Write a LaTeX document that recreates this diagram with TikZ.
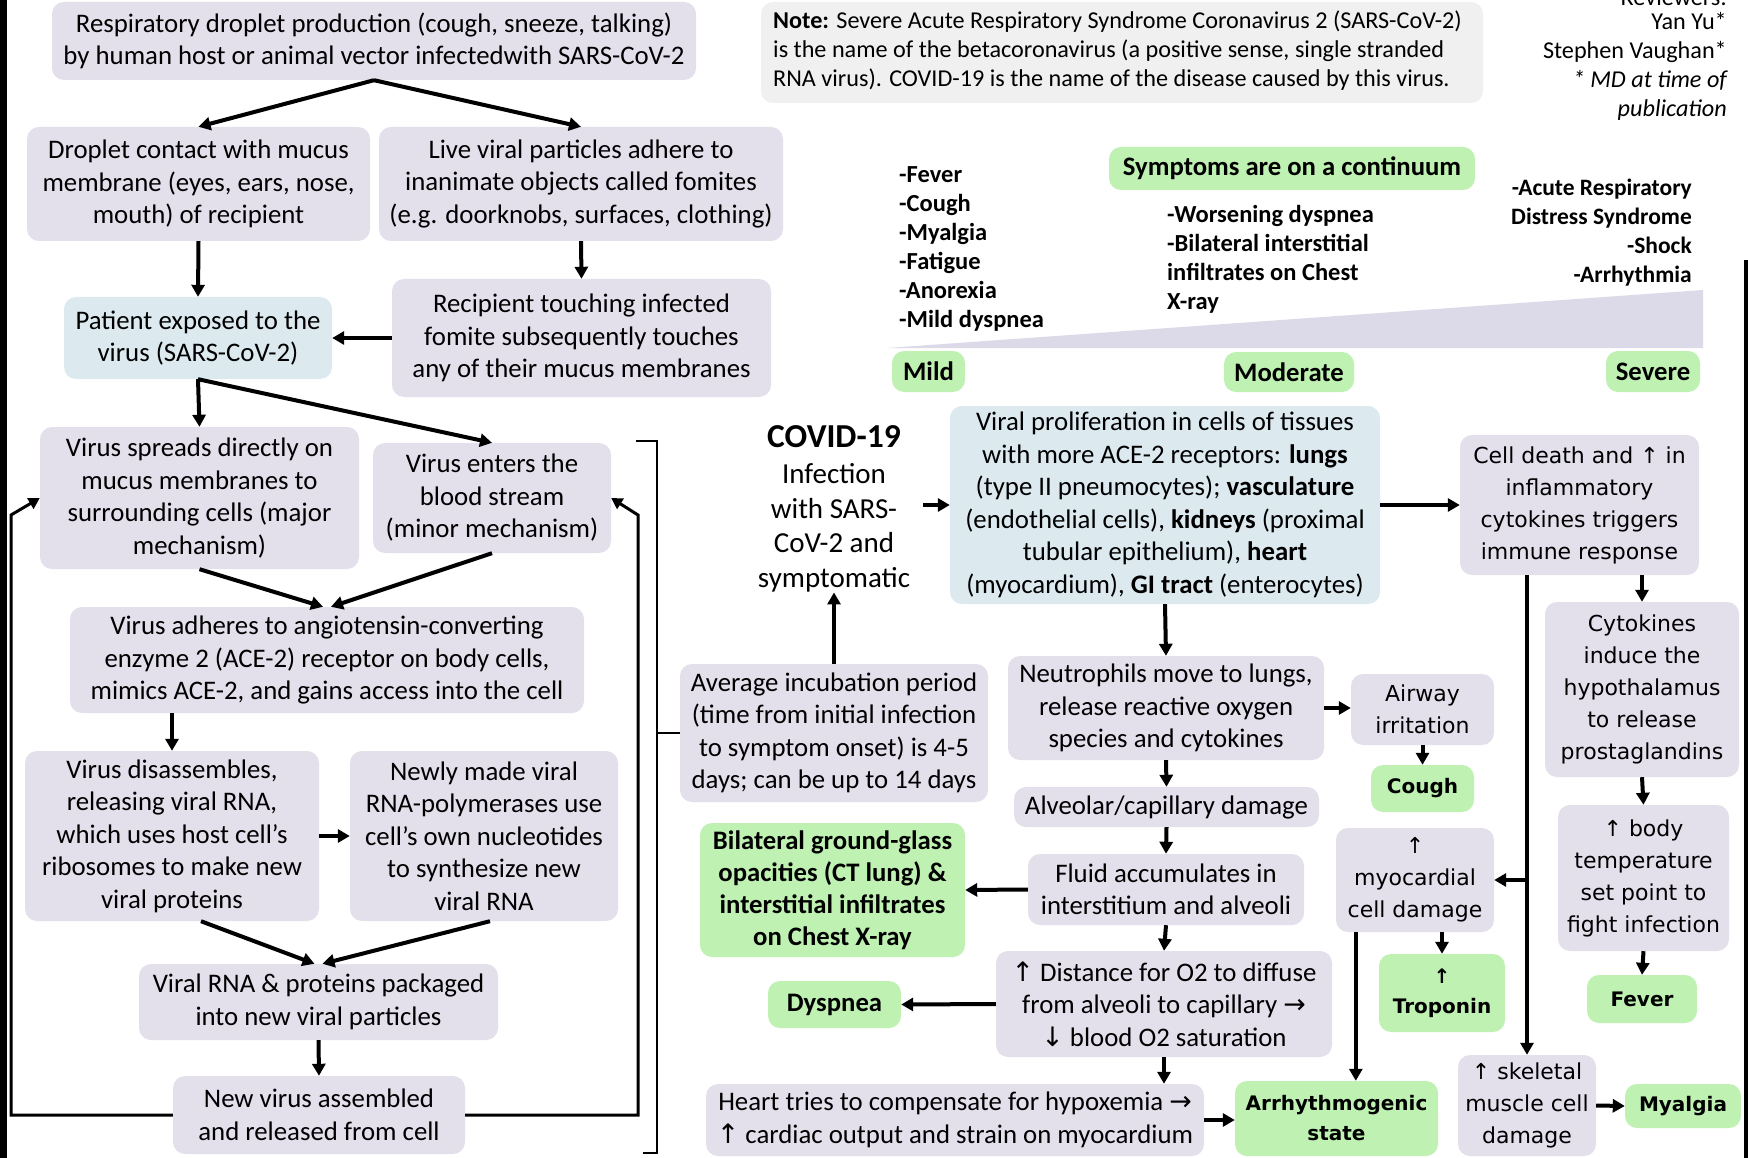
\documentclass[tikz,border=0pt]{standalone}
\usepackage{fontspec}
\setmainfont{Carlito}
\newfontfamily\dejavu{DejaVu Sans}
\usetikzlibrary{arrows.meta,calc}
\definecolor{lav}{HTML}{E3E0EC}
\definecolor{bluebox}{HTML}{DCEAF0}
\definecolor{grn}{HTML}{BFF2B2}
\definecolor{notebg}{HTML}{F0F0F0}
\definecolor{wedgec}{HTML}{DCDAE8}
\newcommand{\myup}{{\dejavu ↑}}
\newcommand{\myrt}{{\dejavu →}}
\newcommand{\mydn}{{\dejavu ↓}}
\tikzset{
  sz/.style 2 args={minimum width=#1, minimum height=#2},
  box/.style={rounded corners=12pt, fill=lav, align=center, inner sep=2pt, font=\fontsize{26.8}{32.5}\selectfont},
  bbox/.style={box, fill=bluebox},
  gbox/.style={box, fill=grn, font=\fontsize{26.7}{32}\selectfont\bfseries},
  rbox/.style={box, font=\dejavu\fontsize{22}{32}\selectfont},
  rgbox/.style={box, fill=grn, font=\dejavu\bfseries\fontsize{20}{30}\selectfont},
  arr/.style={-{Triangle[length=12pt,width=13pt]}, line width=4pt},
  larr/.style={-{Triangle[length=11pt,width=12pt]}, line width=3pt},
  plain/.style={inner sep=0pt, align=left},
  sev/.style={box, fill=grn, font=\fontsize{26.7}{30}\selectfont\bfseries},
}
\begin{document}
\begin{tikzpicture}[x=1pt,y=-1pt]
\useasboundingbox (0,0) rectangle (1748,1158);
\fill[white] (0,0) rectangle (1748,1158);
\fill[black] (0,0) rectangle (7,1158);
\fill[black] (1744,260) rectangle (1748,1158);

% ---------- left column ----------
\node[box, sz={644}{78}] (n1) at (374,41) {Respiratory droplet production (cough, sneeze, talking)\\by human host or animal vector infectedwith SARS-CoV-2};
\node[box, sz={343}{114}] (n2) at (198.5,184) {Droplet contact with mucus\\membrane (eyes, ears, nose,\\mouth) of recipient};
\node[box, sz={404}{114}] (n3) at (581,184) {Live viral particles adhere to\\inanimate objects called fomites\\(e.g. doorknobs, surfaces, clothing)};
\node[bbox, sz={268}{82}] (n4) at (198,338) {Patient exposed to the\\virus (SARS-CoV-2)};
\node[box, sz={379}{118}] (n5) at (581.5,338) {Recipient touching infected\\fomite subsequently touches\\any of their mucus membranes};
\node[box, sz={319}{142}] (n6) at (199.5,498) {Virus spreads directly on\\mucus membranes to\\surrounding cells (major\\mechanism)};
\node[box, sz={238}{110}] (n7) at (492,498) {Virus enters the\\blood stream\\(minor mechanism)};
\node[box, sz={514}{106}] (n8) at (327,660) {Virus adheres to angiotensin-converting\\enzyme 2 (ACE-2) receptor on body cells,\\mimics ACE-2, and gains access into the cell};
\node[box, sz={294}{170}] (n9) at (172,836) {Virus disassembles,\\releasing viral RNA,\\which uses host cell’s\\ribosomes to make new\\viral proteins};
\node[box, sz={268}{170}] (n10) at (484,836) {Newly made viral\\RNA-polymerases use\\cell’s own nucleotides\\to synthesize new\\viral RNA};
\node[box, sz={359}{76}] (n11) at (318.5,1002) {Viral RNA \& proteins packaged\\into new viral particles};
\node[box, sz={292}{78}] (n12) at (319,1115) {New virus assembled\\and released from cell};

\coordinate (lb) at (11,515);
\coordinate (rb) at (638,515);

\draw[arr] (n1.south) -- (n2.north);
\draw[arr] (n1.south) -- (n3.north);
\draw[arr] (n2.south) -- (n4.north);
\draw[arr] (n3.south) -- (n5.north);
\draw[arr] (n5.west) -- (n4.east);
\draw[arr] (n4.south) -- (n6.north);
\draw[arr] (n4.south) -- (n7.north);
\draw[arr] (n6.south) -- ($(n8.north)+(-4,0)$);
\draw[arr] (n7.south) -- ($(n8.north)+(4,0)$);
\draw[arr] (n8.south -| n9.north) -- (n9.north);
\draw[arr] (n9.east) -- (n10.west);
\draw[arr] ($(n9.south)+(29,0)$) -- ($(n11.north)+(-4,0)$);
\draw[arr] ($(n10.south)+(6,0)$) -- ($(n11.north)+(4,0)$);
\draw[arr] (n11.south) -- (n12.north);
\draw[larr] (n12.west) -| (lb) -- (n6.west);
\draw[larr] (n12.east) -| (rb) -- (n7.east);

% bracket
\draw[line width=2.5pt] (636,441) -- (657,441) -- (657,1153) -- (643,1153);

% ---------- note and reviewers ----------
\node[rounded corners=12pt, fill=notebg, sz={722}{101}] (note) at (1122,52.5) {};
\node[plain, anchor=west, font=\fontsize{24.2}{29}\selectfont] (notet) at (773,51) {\textbf{Note:} Severe Acute Respiratory Syndrome Coronavirus 2 (SARS-CoV-2)\\is the name of the betacoronavirus (a positive sense, single stranded\\RNA virus). COVID-19 is the name of the disease caused by this virus.};
\node[plain, anchor=base east, font=\fontsize{24.2}{29}\selectfont] (rv0) at (1727,6) {Reviewers:};
\node[plain, anchor=base east, font=\fontsize{24.2}{29}\selectfont] (rv1) at (1727,30) {Yan Yu*};
\node[plain, anchor=base east, font=\fontsize{24.2}{29}\selectfont] (rv2) at (1727,59) {Stephen Vaughan*};
\node[plain, anchor=base east, font=\fontsize{24.2}{29}\selectfont\itshape] (rv3) at (1727,88) {* MD at time of};
\node[plain, anchor=base east, font=\fontsize{24.2}{29}\selectfont\itshape] (rv4) at (1727,117) {publication};

% ---------- symptoms continuum ----------
\fill[wedgec] (887,348) -- (1703,290) -- (1703,348) -- cycle;
\node[box, fill=grn, sz={366}{43}, font=\fontsize{26.7}{30}\selectfont\bfseries] (symt) at (1292,168.5) {Symptoms are on a continuum};
\node[plain, anchor=west, font=\fontsize{24.5}{29}\selectfont\bfseries] (mildl) at (899,248.5) {-Fever\\-Cough\\-Myalgia\\-Fatigue\\-Anorexia\\-Mild dyspnea};
\node[plain, anchor=west, font=\fontsize{24.5}{29}\selectfont\bfseries] (modl) at (1167,259.5) {-Worsening dyspnea\\-Bilateral interstitial\\infiltrates on Chest\\X-ray};
\node[plain, anchor=east, align=right, font=\fontsize{23.5}{29}\selectfont\bfseries] (sevl) at (1692,233) {-Acute Respiratory\\Distress Syndrome\\-Shock\\-Arrhythmia};
\node[sev, sz={73}{41}] (mild) at (928.5,371.5) {Mild};
\node[sev, sz={130}{40}] (mod) at (1289,372) {Moderate};
\node[sev, sz={94}{41}] (sevb) at (1653,371.5) {Severe};

% ---------- middle ----------
\node[inner sep=0pt, font=\fontsize{33.5}{38}\selectfont\bfseries] (covt) at (834,437) {COVID-19};
\node[inner sep=0pt, align=center, font=\fontsize{29}{34.6}\selectfont] (cov) at (834,528) {Infection\\with SARS-\\CoV-2 and\\symptomatic};
\node[box, sz={308}{138}] (n14) at (834,733) {Average incubation period\\(time from initial infection\\to symptom onset) is 4-5\\days; can be up to 14 days};
\node[bbox, sz={430}{198}] (n15) at (1165,505) {Viral proliferation in cells of tissues\\with more ACE-2 receptors: \textbf{lungs}\\(type II pneumocytes); \textbf{vasculature}\\(endothelial cells), \textbf{kidneys} (proximal\\tubular epithelium), \textbf{heart}\\(myocardium), \textbf{GI tract} (enterocytes)};
\node[box, sz={316}{104}] (n17) at (1166,708) {Neutrophils move to lungs,\\release reactive oxygen\\species and cytokines};
\node[box, sz={305}{40}] (n20) at (1166.5,807) {Alveolar/capillary damage};
\node[box, sz={276}{71}] (n21) at (1166,889.5) {Fluid accumulates in\\interstitium and alveoli};
\node[gbox, sz={265}{134}] (n22) at (832.5,890) {Bilateral ground-glass\\opacities (CT lung) \&\\interstitial infiltrates\\on Chest X-ray};
\node[box, sz={336}{106}] (n23) at (1164,1004) {\myup\ Distance for O2 to diffuse\\from alveoli to capillary \myrt\\\mydn\ blood O2 saturation};
\node[gbox, sz={133}{47}] (n24) at (834.5,1004.5) {Dyspnea};
\node[box, sz={498}{72}] (n25) at (955,1120) {Heart tries to compensate for hypoxemia \myrt\\\myup\ cardiac output and strain on myocardium};

% ---------- right column ----------
\node[rbox, sz={239}{140}] (n16) at (1579.5,505) {Cell death and ↑ in\\inflammatory\\cytokines triggers\\immune response};
\node[rbox, sz={143}{71}] (n18) at (1422.5,709.5) {Airway\\irritation};
\node[rgbox, sz={103}{47}] (n19) at (1422.5,788.5) {Cough};
\node[rbox, sz={158}{104}] (n27) at (1415,880) {↑\\myocardial\\cell damage};
\node[rgbox, sz={126}{78}] (n28) at (1442,993) {↑\\Troponin};
\node[rgbox, sz={203}{75}] (n26) at (1336.5,1118.5) {Arrhythmogenic\\state};
\node[rbox, sz={138}{101}] (n29) at (1527,1105.5) {↑ skeletal\\muscle cell\\damage};
\node[rgbox, sz={116}{44}] (n30) at (1683,1106) {Myalgia};
\node[rbox, sz={194}{175}] (n31) at (1642,689.5) {Cytokines\\induce the\\hypothalamus\\to release\\prostaglandins};
\node[rbox, sz={171}{146}] (n32) at (1643.5,878) {↑ body\\temperature\\set point to\\fight infection};
\node[rgbox, sz={110}{48}] (n33) at (1642,999) {Fever};

\coordinate (m1) at ($(n27.south west)+(20,0)$);

\draw[arr] (n14.north) -- (cov.south);
\draw[arr] ($(n15.west)+(-27,0)$) -- (n15.west);
\draw[arr] (n15.east) -- (n16.west);
\draw[arr] (n15.south) -- (n17.north);
\draw[arr] (n17.east) -- (n17.east -| n18.west);
\draw[arr] (n18.south) -- (n19.north);
\draw[arr] (n17.south) -- (n20.north);
\draw[arr] (n20.south) -- (n21.north);
\draw[arr] (n21.west) -- (n22.east);
\draw[arr] (n21.south) -- (n23.north);
\draw[arr] (n23.west) -- (n24.east);
\draw[arr] (n23.south) -- (n23.south |- n25.north);
\draw[arr] (n25.east) -- (n25.east -| n26.west);
\draw[arr] (m1) -- (m1 |- n26.north);
\draw[arr] (n28.north |- n27.south) -- (n28.north);
\draw[arr] (n29.north |- n16.south) -- (n29.north);
\draw[arr] (n29.north |- n27.east) -- (n27.east);
\draw[arr] (n29.east) -- (n30.west);
\draw[arr] (n31.north |- n16.south) -- (n31.north);
\draw[arr] (n31.south) -- (n32.north);
\draw[arr] (n32.south) -- (n33.north);
\draw[line width=2.5pt] (657,733) -- (n14.west);
\end{tikzpicture}
\end{document}
